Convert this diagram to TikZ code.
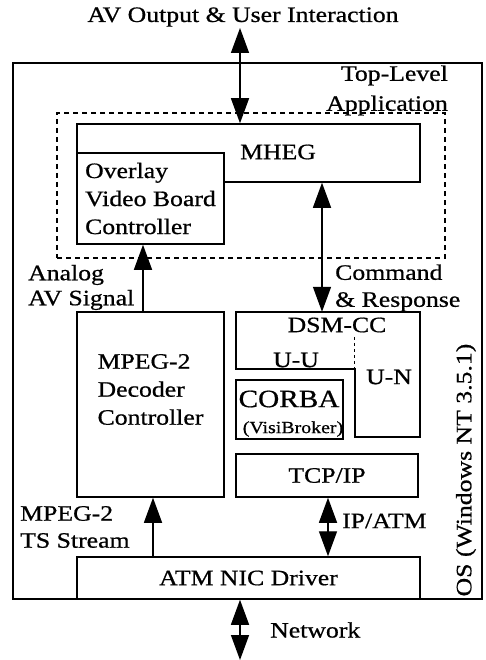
\documentclass[tikz,border=0pt]{standalone}
\usepackage{fontspec}
\setmainfont[FakeStretch=1.17, FakeBold=0.7]{Liberation Serif}
\usetikzlibrary{arrows.meta,positioning}

\begin{document}
\begin{tikzpicture}[
  x=1pt, y=-1pt,
  font=\fontsize{22}{26}\selectfont,
  box/.style={draw, line width=1.5pt, inner sep=0pt, fill=white},
  area/.style={inner sep=0pt},
  lbl/.style={inner sep=0pt},
  sig/.style={-{Triangle[length=25pt,width=18pt]}, line width=1.4pt},
  bisig/.style={{Triangle[length=25pt,width=18pt]}-{Triangle[length=25pt,width=18pt]}, line width=1.4pt}
]
\useasboundingbox (0,0) rectangle (485,660);
% system frame and application group
\node[box, minimum width=469pt, minimum height=536pt] (os) at (247.5,331) {};
\node[area, draw, line width=1.1pt, dash pattern=on 5pt off 4pt, minimum width=388pt, minimum height=145pt] (app) at (251,185.5) {};
% boxes
\node[box, minimum width=343pt, minimum height=58pt] (mheg) at (248.5,153) {};
\node[box, minimum width=147pt, minimum height=91pt, align=left, font=\fontsize{22}{28}\selectfont] (overlay) at (150.5,198.5) {Overlay\\Video Board\\Controller};
\node[box, minimum width=147pt, minimum height=185pt] (mpeg) at (150.5,404.5) {};
\node[area, minimum width=184pt, minimum height=57pt] (dsm) at (328,340.5) {};
\node[area, minimum width=65pt, minimum height=125pt] (un) at (387.5,374.5) {};
\node[box, minimum width=107pt, minimum height=59pt] (corba) at (289.5,409.5) {};
\node[box, minimum width=182pt, minimum height=43pt] (tcp) at (327,475.5) {TCP/IP};
\node[box, minimum width=343pt, minimum height=42pt] (atm) at (248.5,578) {ATM NIC Driver};
% DSM-CC outline
\draw[line width=1.5pt] (dsm.north west) -- (dsm.north east) -- (un.south east) -- (un.south west)
  -- (un.south west |- dsm.south) -- (dsm.south west) -- cycle;
\draw[line width=1.1pt, dash pattern=on 3pt off 3pt] ([yshift=-25pt]un.north west) -- (un.north west |- dsm.south);
% texts inside boxes
\node[lbl] (mhegtxt) at (278,152) {MHEG};
\node[lbl, align=left, font=\fontsize{22}{28}\selectfont] (mpegtxt) at (150.5,389.5) {MPEG-2\\Decoder\\Controller};
\node[lbl] (dsmtxt) at (337,325) {DSM-CC};
\node[lbl] (uutxt) at (296,360) {U-U};
\node[lbl] (untxt) at (389,377) {U-N};
\node[lbl, font=\fontsize{25}{28}\selectfont] (corbatxt) at (289,399) {CORBA};
\node[lbl, font=\fontsize{17}{18}\selectfont] (visitxt) at (293,429) {(VisiBroker)};
% outside labels
\node[lbl] (avtxt) at (243,17) {AV Output \& User Interaction};
\node[lbl, align=right, anchor=east, font=\fontsize{22}{30}\selectfont] (toptxt) at (448,90.5) {Top-Level\\Application};
\node[lbl, align=left, anchor=west, font=\fontsize{22}{25}\selectfont] (anatxt) at (28,287.5) {Analog\\AV Signal};
\node[lbl, align=left, anchor=west, font=\fontsize{22}{27}\selectfont] (cmdtxt) at (335,288) {Command\\\& Response};
\node[lbl, align=left, anchor=west, font=\fontsize{22}{27}\selectfont] (tstxt) at (20,527) {MPEG-2\\TS Stream};
\node[lbl, anchor=west] (iptxt) at (342,521) {IP/ATM};
\node[lbl, anchor=west] (nettxt) at (270,630) {Network};
\node[lbl, rotate=90] (ostxt) at (466,470) {OS (Windows NT 3.5.1)};
% connectors
\coordinate (avio) at (240,28);
\coordinate (net) at (240,660);
\draw[bisig] (avio) -- (avio |- mheg.north);
\draw[sig] ([xshift=-7.5pt]mpeg.north) -- ([xshift=-7.5pt]overlay.south);
\draw[bisig] ([xshift=73.5pt]mheg.south) -- ([xshift=73.5pt]mheg.south |- dsm.north);
\draw[sig] ([xshift=2.5pt]mpeg.south |- atm.north) -- ([xshift=2.5pt]mpeg.south);
\draw[bisig] ([xshift=1pt]tcp.south) -- ([xshift=1pt]tcp.south |- atm.north);
\draw[bisig] (net |- atm.south) -- (net);
\end{tikzpicture}
\end{document}
